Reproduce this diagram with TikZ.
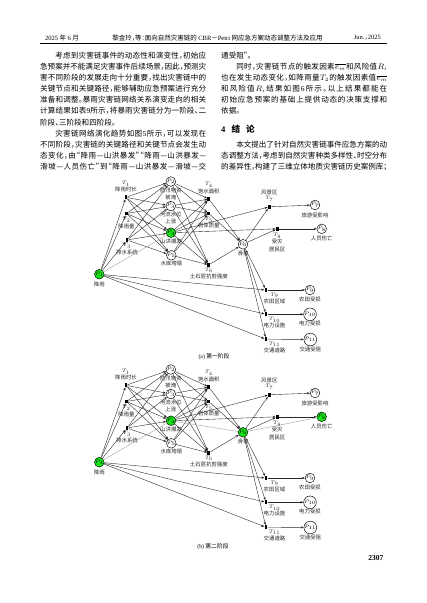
\documentclass[tikz,border=0pt]{standalone}
\usepackage[no-math]{fontspec}
\setmainfont{Noto Sans CJK SC}[RawFeature=+halt]
\newfontfamily\lat{Liberation Serif}
\usetikzlibrary{arrows.meta}
\definecolor{pgreen}{RGB}{24,226,24}
\makeatletter
\newcommand\jl[1]{\hbox to 166pt{\@tfor\@jx:=#1\do{{\@jx}\hskip 0pt plus 1fil minus 0.8pt}\unskip}}
\newcommand\jli[1]{\hbox to 166pt{\hskip 15.1pt\@tfor\@jx:=#1\do{{\@jx}\hskip 0pt plus 1fil minus 0.8pt}\unskip}}
\makeatother
\newcommand\lbl[4]{\node[lab] (#1) at ([shift={(#3)}]#2) {#4};}
\newcommand\petri[3]{%
 \node[place,hot] (#1P1) at (99.3,274.2) {$P_1$};
 \node[place] (#1P2) at (170.8,181.5) {$P_2$};
 \node[place] (#1P3) at (170.8,206) {$P_3$};
 \node[place,hot] (#1P4) at (171,232.7) {$P_4$};
 \node[place] (#1P5) at (171.3,255.3) {$P_5$};
 \node[place,#2] (#1P6) at (243,244.3) {$P_6$};
 \node[place] (#1P7) at (315,205) {$P_7$};
 \node[place,#3] (#1P8) at (321.7,228.8) {$P_8$};
 \node[place] (#1P9) at (310,290) {$P_9$};
 \node[place] (#1P10) at (310,314.3) {$P_{10}$};
 \node[place] (#1P11) at (310.3,339.5) {$P_{11}$};
 \node[trans] (#1T1) at (126,197.3) {};
 \node[trans] (#1T2) at (126.5,213.5) {};
 \node[trans] (#1T3) at (127,240) {};
 \node[trans] (#1T4) at (208.8,199) {};
 \node[trans] (#1T5) at (208.8,213.5) {};
 \node[trans] (#1T6) at (208.8,264.8) {};
 \node[trans] (#1T7) at (269.3,206.8) {};
 \node[trans] (#1T8) at (277.2,228.8) {};
 \node[trans] (#1T9) at (266,290) {};
 \node[trans] (#1T10) at (266,314.3) {};
 \node[trans] (#1T11) at (266,339.2) {};
 \lbl{#1t1a}{#1T1}{0,-13.7}{$T_1$}
 \lbl{#1t1b}{#1T1}{0,-7.5}{降雨时长}
 \lbl{#1t2a}{#1T2}{0,6.3}{$T_2$}
 \lbl{#1t2b}{#1T2}{0,12.5}{降雨量}
 \lbl{#1t3a}{#1T3}{0,6}{$T_3$}
 \lbl{#1t3b}{#1T3}{0,12.3}{排水系统}
 \lbl{#1t4a}{#1T4}{0,-14}{$T_4$}
 \lbl{#1t4b}{#1T4}{0,-8}{饱水面积}
 \lbl{#1t5a}{#1T5}{0,6.3}{$T_5$}
 \lbl{#1t5b}{#1T5}{0,12}{岩体质量}
 \lbl{#1t6a}{#1T6}{0,5.5}{$T_6$}
 \lbl{#1t6b}{#1T6}{0,12}{土石层抗剪强度}
 \lbl{#1t7a}{#1T7}{0,-14.5}{风景区}
 \lbl{#1t7b}{#1T7}{0,-8}{$T_7$}
 \lbl{#1t8a}{#1T8}{0,6.8}{$T_8$}
 \lbl{#1t8b}{#1T8}{0,12.8}{受灾}
 \lbl{#1t8c}{#1T8}{0,20.3}{居民区}
 \lbl{#1t9a}{#1T9}{8.5,5.3}{$T_9$}
 \lbl{#1t9b}{#1T9}{8.5,11.3}{农田区域}
 \lbl{#1t10a}{#1T10}{8.5,5.5}{$T_{10}$}
 \lbl{#1t10b}{#1T10}{8.5,11.5}{电力设施}
 \lbl{#1t11a}{#1T11}{8.5,5.3}{$T_{11}$}
 \lbl{#1t11b}{#1T11}{8.5,11.3}{交通道路}
 \lbl{#1p1}{#1P1}{0,9.8}{降雨}
 \lbl{#1p2a}{#1P2}{0,9.3}{防汛物资}
 \lbl{#1p2b}{#1P2}{0,15.6}{被淹}
 \lbl{#1p3a}{#1P3}{0,8.3}{河流水位}
 \lbl{#1p3b}{#1P3}{0,15}{上涨}
 \lbl{#1p4}{#1P4}{0,8.8}{山洪爆发}
 \lbl{#1p5}{#1P5}{0,8.5}{水库垮塌}
 \lbl{#1p6}{#1P6}{0,9.5}{滑坡}
 \lbl{#1p7}{#1P7}{0,10}{旅游受影响}
 \lbl{#1p8}{#1P8}{0,10}{人员伤亡}
 \lbl{#1p9}{#1P9}{0,9.3}{农田受损}
 \lbl{#1p10}{#1P10}{0,9.3}{电力受损}
 \lbl{#1p11}{#1P11}{0,9.5}{交通受阻}
 \foreach \tn in {T1,T2,T3} {\draw[parc] (#1P1) -- (#1\tn);}
 \foreach \tn in {T1,T2,T3} {\foreach \pn in {P2,P3,P4,P5} {\draw[parc] (#1\tn) -- (#1\pn);}}
 \foreach \pn in {P2,P3,P4,P5} {\foreach \tn in {T4,T5,T6} {\draw[parc] (#1\pn) -- (#1\tn);}}
 \foreach \tn in {T4,T5,T6} {\draw[parc] (#1\tn) -- (#1P6);}
 \draw[parc] (#1P4) -- (#1T7);
 \draw[parc] (#1P4) -- (#1T8);
 \draw[parc] (#1P6) -- (#1T7);
 \draw[parc] (#1P6) -- (#1T8);
 \draw[parc] (#1T7) -- (#1P7);
 \draw[parc] (#1T8) -- (#1P8);
 \foreach \tn in {T9,T10,T11} {\draw[parc] (#1P6) -- (#1\tn); \draw[parc] (#1P1) -- (#1\tn);}
 \draw[parc] (#1T9) -- (#1P9);
 \draw[parc] (#1T10) -- (#1P10);
 \draw[parc] (#1T11) -- (#1P11);
}
\begin{document}
\begin{tikzpicture}[x=1pt,y=-1pt,
 body/.style={anchor=base west, inner sep=0pt, font=\fontsize{7.55}{9}\selectfont},
 hdr/.style={inner sep=0pt, font=\fontsize{6.5}{7}\selectfont},
 place/.style={circle, draw=black, line width=0.45pt, minimum size=9pt, inner sep=0pt, fill=white, font=\fontsize{4.3}{4.3}\selectfont},
 hot/.style={fill=pgreen},
 cold/.style={},
 trans/.style={rectangle, fill=black, draw=none, minimum width=2.8pt, minimum height=3.8pt, inner sep=0pt},
 lab/.style={inner sep=0pt, font=\fontsize{5.4}{6}\selectfont, text=black!85},
 parc/.style={draw=black!85, line width=0.38pt, -{Stealth[length=3pt,width=2.2pt]}},
 hl/.style={draw=black!40, line width=0.35pt},
 capstyle/.style={inner sep=0pt, font=\fontsize{5.8}{6}\selectfont}]
\path[use as bounding box] (0,0) rectangle (427,603);
\fill[white] (0,0) rectangle (427,603);
% header
\node[hdr, anchor=west] (h1) at (45,37.7) {{\lat 2025} 年 {\lat 6} 月};
\node[hdr] (h2) at (217.5,37.7) {黎金玲，等：面向自然灾害链的 {\lat CBR}－{\lat Petri} 网应急方案动态调整方法及应用};
\node[hdr, anchor=east] (h3) at (381,37.7) {{\lat Jun.}，{\lat 2025}};
\draw[line width=0.5pt] (40,43.3) -- (387,43.3);
% left column
\node[body] (L1) at (40,58.4) {\jli{考虑到灾害链事件的动态性和演变性，初始应}};
\node[body] (L2) at (40,69.5) {\jl{急预案并不能满足灾害事件后续场景，因此，预测灾}};
\node[body] (L3) at (40,80.6) {\jl{害不同阶段的发展走向十分重要，找出灾害链中的}};
\node[body] (L4) at (40,91.7) {\jl{关键节点和关键路径，能够辅助应急预案进行充分}};
\node[body] (L5) at (40,102.8) {\jl{准备和调整。暴雨灾害链网络关系演变走向的相关}};
\node[body] (L6) at (40,113.9) {\jl{计算结果如表{\lat 9}所示，将暴雨灾害链分为一阶段、二}};
\node[body] (L7) at (40,125.0) {阶段、三阶段和四阶段。};
\node[body] (L8) at (40,136.1) {\jli{灾害链网络演化趋势如图{\lat 5}所示，可以发现在}};
\node[body] (L9) at (40,147.2) {\jl{不同阶段，灾害链的关键路径和关键节点会发生动}};
\node[body] (L10) at (40,158.3) {\jl{态变化，由“降雨—山洪暴发”“降雨—山洪暴发—}};
\node[body] (L11) at (40,169.4) {\jl{滑坡—人员伤亡”到“降雨—山洪暴发—滑坡—交}};
% right column
\node[body] (R1) at (221,58.4) {通受阻”。};
\node[body] (R2) at (221,69.5) {\jli{同时，灾害链节点的触发因素{$\overline{e_m}$}和风险值{$R_i$}}};
\node[body] (R3) at (221,80.6) {\jl{也在发生动态变化，如降雨量{$T_2$}的触发因素值{$\overline{e_m}$}}};
\node[body] (R4) at (221,91.7) {\jl{和风险值{$R_i$}结果如图{\lat 6}所示。以上结果都能在}};
\node[body] (R5) at (221,102.8) {\jl{初始应急预案的基础上提供动态的决策支撑和}};
\node[body] (R6) at (221,113.9) {依据。};
\node[body, font=\fontsize{8.6}{9}\selectfont\bfseries] (R7) at (221,132.2) {{\lat 4}\hspace{6pt}结\hspace{6pt}论};
\node[body] (R8) at (221,147.2) {\jli{本文提出了针对自然灾害链事件应急方案的动}};
\node[body] (R9) at (221,158.3) {\jl{态调整方法，考虑到自然灾害种类多样性、时空分布}};
\node[body] (R10) at (221,169.4) {\jl{的差异性，构建了三维立体地质灾害链历史案例库；}};
% figure (a)
\petri{a}{cold}{cold}
\draw[hl] (aP1) -- (aP4);
\node[capstyle] (capa) at (214,357) {{\lat (a)} 第一阶段};
% figure (b)
\begin{scope}[shift={(0,188)}]
\petri{b}{hot}{hot}
\end{scope}
\draw[hl] (bP1) -- (bP4);
\draw[hl] (bP4) -- (bP6);
\draw[hl] (bP6) -- (bP8);
\node[capstyle] (capb) at (213,546.7) {{\lat (b)} 第二阶段};
\node[anchor=east, inner sep=0pt, font={\fontsize{7.5}{8}\selectfont\lat\bfseries}] (pg) at (383.5,558.3) {2307};
\end{tikzpicture}
\end{document}
